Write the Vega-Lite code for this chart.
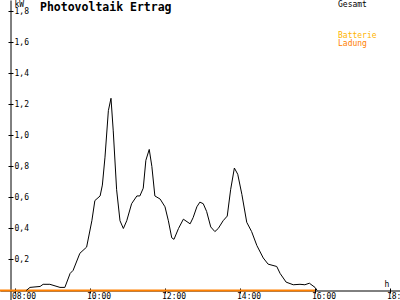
{
  "$schema": "https://vega.github.io/schema/vega-lite/v6.json",
  "width": 400,
  "height": 300,
  "autosize": {"type": "none"},
  "padding": 0,
  "background": "white",
  "config": {
    "view": {"stroke": null},
    "font": "DejaVu Sans Mono",
    "axis": {"labelFont": "DejaVu Sans Mono", "labelFontSize": 8, "labelColor": "black", "domainColor": "black", "tickColor": "black", "grid": false, "titleFont": "DejaVu Sans Mono", "titleFontSize": 8, "titleFontWeight": "normal", "titleColor": "black"},
    "legend": {"labelFont": "DejaVu Sans Mono", "labelFontSize": 8}
  },
  "title": {"text": "Photovoltaik Ertrag", "anchor": "start", "frame": "group", "dx": 40, "offset": -22, "baseline": "alphabetic", "font": "DejaVu Sans Mono", "fontSize": 11.5, "fontWeight": "bold", "color": "black"},
  "datasets": {
    "gesamt": [
      {"zeit": 8.3, "kw": 0.0, "serie": "Gesamt"},
      {"zeit": 8.4, "kw": 0.02, "serie": "Gesamt"},
      {"zeit": 8.67, "kw": 0.026, "serie": "Gesamt"},
      {"zeit": 8.75, "kw": 0.04, "serie": "Gesamt"},
      {"zeit": 8.93, "kw": 0.04, "serie": "Gesamt"},
      {"zeit": 9.2, "kw": 0.02, "serie": "Gesamt"},
      {"zeit": 9.33, "kw": 0.02, "serie": "Gesamt"},
      {"zeit": 9.47, "kw": 0.11, "serie": "Gesamt"},
      {"zeit": 9.55, "kw": 0.13, "serie": "Gesamt"},
      {"zeit": 9.73, "kw": 0.24, "serie": "Gesamt"},
      {"zeit": 9.91, "kw": 0.28, "serie": "Gesamt"},
      {"zeit": 10.05, "kw": 0.45, "serie": "Gesamt"},
      {"zeit": 10.13, "kw": 0.58, "serie": "Gesamt"},
      {"zeit": 10.27, "kw": 0.61, "serie": "Gesamt"},
      {"zeit": 10.33, "kw": 0.68, "serie": "Gesamt"},
      {"zeit": 10.4, "kw": 0.86, "serie": "Gesamt"},
      {"zeit": 10.49, "kw": 1.16, "serie": "Gesamt"},
      {"zeit": 10.56, "kw": 1.24, "serie": "Gesamt"},
      {"zeit": 10.62, "kw": 1.03, "serie": "Gesamt"},
      {"zeit": 10.71, "kw": 0.65, "serie": "Gesamt"},
      {"zeit": 10.8, "kw": 0.45, "serie": "Gesamt"},
      {"zeit": 10.89, "kw": 0.4, "serie": "Gesamt"},
      {"zeit": 10.98, "kw": 0.45, "serie": "Gesamt"},
      {"zeit": 11.11, "kw": 0.56, "serie": "Gesamt"},
      {"zeit": 11.25, "kw": 0.61, "serie": "Gesamt"},
      {"zeit": 11.33, "kw": 0.61, "serie": "Gesamt"},
      {"zeit": 11.42, "kw": 0.66, "serie": "Gesamt"},
      {"zeit": 11.49, "kw": 0.84, "serie": "Gesamt"},
      {"zeit": 11.58, "kw": 0.91, "serie": "Gesamt"},
      {"zeit": 11.65, "kw": 0.8, "serie": "Gesamt"},
      {"zeit": 11.73, "kw": 0.61, "serie": "Gesamt"},
      {"zeit": 11.87, "kw": 0.59, "serie": "Gesamt"},
      {"zeit": 12.0, "kw": 0.54, "serie": "Gesamt"},
      {"zeit": 12.09, "kw": 0.45, "serie": "Gesamt"},
      {"zeit": 12.18, "kw": 0.34, "serie": "Gesamt"},
      {"zeit": 12.24, "kw": 0.33, "serie": "Gesamt"},
      {"zeit": 12.36, "kw": 0.4, "serie": "Gesamt"},
      {"zeit": 12.49, "kw": 0.46, "serie": "Gesamt"},
      {"zeit": 12.67, "kw": 0.43, "serie": "Gesamt"},
      {"zeit": 12.75, "kw": 0.47, "serie": "Gesamt"},
      {"zeit": 12.85, "kw": 0.54, "serie": "Gesamt"},
      {"zeit": 12.93, "kw": 0.57, "serie": "Gesamt"},
      {"zeit": 13.02, "kw": 0.56, "serie": "Gesamt"},
      {"zeit": 13.11, "kw": 0.51, "serie": "Gesamt"},
      {"zeit": 13.22, "kw": 0.41, "serie": "Gesamt"},
      {"zeit": 13.33, "kw": 0.38, "serie": "Gesamt"},
      {"zeit": 13.42, "kw": 0.4, "serie": "Gesamt"},
      {"zeit": 13.55, "kw": 0.45, "serie": "Gesamt"},
      {"zeit": 13.66, "kw": 0.48, "serie": "Gesamt"},
      {"zeit": 13.75, "kw": 0.65, "serie": "Gesamt"},
      {"zeit": 13.85, "kw": 0.79, "serie": "Gesamt"},
      {"zeit": 13.94, "kw": 0.75, "serie": "Gesamt"},
      {"zeit": 14.05, "kw": 0.62, "serie": "Gesamt"},
      {"zeit": 14.18, "kw": 0.44, "serie": "Gesamt"},
      {"zeit": 14.31, "kw": 0.38, "serie": "Gesamt"},
      {"zeit": 14.45, "kw": 0.29, "serie": "Gesamt"},
      {"zeit": 14.62, "kw": 0.21, "serie": "Gesamt"},
      {"zeit": 14.75, "kw": 0.17, "serie": "Gesamt"},
      {"zeit": 14.98, "kw": 0.155, "serie": "Gesamt"},
      {"zeit": 15.07, "kw": 0.11, "serie": "Gesamt"},
      {"zeit": 15.23, "kw": 0.054, "serie": "Gesamt"},
      {"zeit": 15.42, "kw": 0.037, "serie": "Gesamt"},
      {"zeit": 15.6, "kw": 0.04, "serie": "Gesamt"},
      {"zeit": 15.73, "kw": 0.037, "serie": "Gesamt"},
      {"zeit": 15.85, "kw": 0.047, "serie": "Gesamt"},
      {"zeit": 16.0, "kw": 0.02, "serie": "Gesamt"},
      {"zeit": 16.06, "kw": 0.0, "serie": "Gesamt"}
    ],
    "ladung": [
      {"zeit": 7.5, "kw": 0.0, "serie": "Ladung"},
      {"zeit": 16.0, "kw": 0.0, "serie": "Ladung"}
    ]
  },
  "layer": [
    {
      "data": {"name": "ladung"},
      "mark": {"type": "line", "strokeWidth": 2, "clip": true, "interpolate": "linear"},
      "encoding": {
        "x": {"field": "zeit", "type": "quantitative", "scale": {"domain": [7.6, 18.267], "nice": false, "zero": false},
          "axis": {"orient": "bottom", "offset": -9.5, "title": "h", "titleX": 384, "titleY": -4, "titleAlign": "left", "titleBaseline": "alphabetic", "titleAnchor": null, "values": [8, 10, 12, 14, 16, 18], "tickSize": 2.5, "labelPadding": -1, "labelAlign": "left", "labelOffset": -3.5, "labelBaseline": "top", "labelFlush": false, "labelOverlap": false, "labelExpr": "(datum.value < 10 ? '0' : '') + datum.value + ':00'"}},
        "y": {"field": "kw", "type": "quantitative", "scale": {"domain": [-0.0613, 1.874], "nice": false, "zero": false},
          "axis": {"orient": "right", "offset": -389.5, "title": "kW", "titleAngle": 0, "titleX": 3.5, "titleY": 0, "titleAlign": "left", "titleBaseline": "top", "titleAnchor": null, "values": [0.2, 0.4, 0.6, 0.8, 1.0, 1.2, 1.4, 1.6, 1.8], "tickSize": 2.5, "labelPadding": 1, "labelAlign": "left", "labelFlush": false, "labelOverlap": false, "labelExpr": "replace(format(datum.value, '.1f'), '.', ',')"}},
        "stroke": {"field": "serie", "type": "nominal", "scale": {"domain": ["Batterie", "Ladung"], "range": ["#ffb400", "#ff8000"]},
          "legend": {"orient": "none", "legendX": 330, "legendY": 31.5, "title": null, "padding": 0, "symbolSize": 0, "symbolOpacity": 0, "symbolStrokeWidth": 0, "labelOffset": 0, "rowPadding": 0.3, "labelColor": {"expr": "datum.label == 'Ladung' ? '#ff8000' : '#ffb400'"}}}
      }
    },
    {
      "data": {"name": "gesamt"},
      "mark": {"type": "line", "strokeWidth": 1, "clip": true, "interpolate": "linear"},
      "encoding": {
        "x": {"field": "zeit", "type": "quantitative",
          "axis": {"orient": "top", "offset": -290.5, "title": null, "values": [8, 10, 12, 14, 16, 18], "tickSize": 2.5, "labels": false, "domain": false}},
        "y": {"field": "kw", "type": "quantitative",
          "axis": {"orient": "left", "offset": -10.5, "title": null, "values": [0.2, 0.4, 0.6, 0.8, 1.0, 1.2, 1.4, 1.6, 1.8], "tickSize": 2.5, "labels": false, "domain": false}},
        "color": {"field": "serie", "type": "nominal", "scale": {"domain": ["Gesamt"], "range": ["black"]},
          "legend": {"orient": "none", "legendX": 330, "legendY": 0.5, "title": null, "padding": 0, "symbolSize": 0, "symbolOpacity": 0, "symbolStrokeWidth": 0, "labelOffset": 0, "labelColor": "black"}}
      }
    }
  ],
  "resolve": {"axis": {"x": "independent", "y": "independent"}, "legend": {"color": "independent", "stroke": "independent"}}
}
